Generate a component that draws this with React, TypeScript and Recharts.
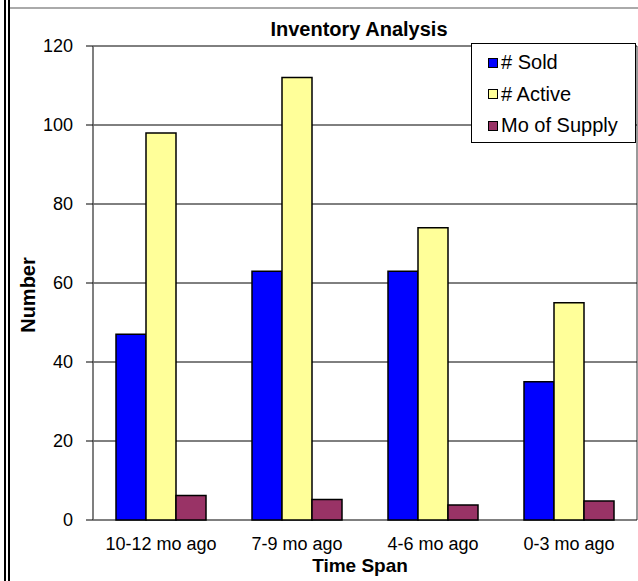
import React from 'react';
import { BarChart, Bar, XAxis, YAxis, CartesianGrid, Legend } from 'recharts';

const categories = ['10-12 mo ago', '7-9 mo ago', '4-6 mo ago', '0-3 mo ago'];
const sold = [47, 63, 63, 35];
const active = [98, 112, 74, 55];
const supply = [6.2, 5.2, 3.8, 4.8];
const yTicks = [0, 20, 40, 60, 80, 100, 120];
const boundaryTicks = [0, 1, 2, 3, 4];
const seriesOrder = ['sold', 'active', 'supply'];

const data = categories.map((name, i) => ({
  name,
  sold: sold[i],
  active: active[i],
  supply: supply[i],
}));

const FONT = '"Liberation Sans", Arial, sans-serif';

const LegendBox = ({ payload }: any) => {
  const items = [...(payload || [])].sort(
    (a: any, b: any) => seriesOrder.indexOf(a.dataKey) - seriesOrder.indexOf(b.dataKey)
  );
  return (
    <div
      style={{
        border: '1px solid #000',
        background: '#fff',
        width: 163,
        height: 95,
        boxSizing: 'content-box',
        paddingTop: 3,
      }}
    >
      {items.map((p: any) => (
        <div
          key={p.value}
          style={{ display: 'flex', alignItems: 'center', height: 31.5, paddingLeft: 16 }}
        >
          <span
            style={{
              display: 'inline-block',
              width: 8,
              height: 8,
              background: p.color,
              border: '1.5px solid #000',
              marginRight: 3,
            }}
          />
          <span style={{ fontSize: 20, color: '#000', fontFamily: FONT }}>{p.value}</span>
        </div>
      ))}
    </div>
  );
};

export default function App() {
  return (
    <div
      style={{
        position: 'absolute',
        left: 0,
        top: 0,
        width: 638,
        height: 581,
        background: '#fff',
        fontFamily: FONT,
        overflow: 'hidden',
      }}
    >
      {/* frame lines */}
      <div style={{ position: 'absolute', left: 4, top: 0, width: 2, height: 581, background: '#000' }} />
      <div style={{ position: 'absolute', left: 8, top: 0, width: 2, height: 581, background: '#000' }} />
      <div style={{ position: 'absolute', left: 10, top: 7, width: 628, height: 2, background: '#aaa' }} />

      <BarChart
        width={638}
        height={581}
        data={data}
        margin={{ top: 46, right: 1, bottom: 0, left: 0 }}
        barCategoryGap={23}
        barGap={0}
        style={{ position: 'absolute', left: 0, top: 0 }}
      >
        <XAxis
          xAxisId="grid"
          type="number"
          domain={[0, 4]}
          ticks={boundaryTicks}
          tick={false}
          tickSize={7}
          height={0}
          axisLine={{ stroke: '#000' }}
          tickLine={{ stroke: '#555' }}
        />
        <XAxis
          dataKey="name"
          height={61}
          tickSize={0}
          tickMargin={17}
          axisLine={false}
          tick={{ fontSize: 18, fill: '#000', fontFamily: FONT }}
        />
        <YAxis
          domain={[0, 120]}
          ticks={yTicks}
          width={93}
          tickSize={7}
          tickMargin={13}
          axisLine={{ stroke: '#777', strokeWidth: 1.5 }}
          tickLine={{ stroke: '#000' }}
          tick={{ fontSize: 18, fill: '#000', fontFamily: FONT }}
        />
        <CartesianGrid xAxisId="grid" horizontal={false} stroke="#777" strokeWidth={1.5} />
        <CartesianGrid xAxisId="grid" vertical={false} stroke="#000" strokeWidth={1} />
        <Legend
          layout="horizontal"
          verticalAlign="middle"
          align="center"
          content={<LegendBox />}
          wrapperStyle={{ position: 'absolute', left: 471, top: 43, width: 165, height: 99 }}
        />
        <Bar dataKey="sold" name="# Sold" fill="#0000FF" stroke="#000" strokeWidth={1.5} isAnimationActive={false} />
        <Bar dataKey="active" name="# Active" fill="#FFFF99" stroke="#000" strokeWidth={1.5} isAnimationActive={false} />
        <Bar dataKey="supply" name="Mo of Supply" fill="#993366" stroke="#000" strokeWidth={1.5} isAnimationActive={false} />
      </BarChart>

      <div
        style={{
          position: 'absolute',
          left: 259,
          width: 200,
          top: 17,
          textAlign: 'center',
          fontSize: 20,
          fontWeight: 'bold',
          lineHeight: '24px',
        }}
      >
        Inventory Analysis
      </div>
      <div
        style={{
          position: 'absolute',
          left: 260,
          width: 200,
          top: 554,
          textAlign: 'center',
          fontSize: 19,
          fontWeight: 'bold',
          lineHeight: '24px',
        }}
      >
        Time Span
      </div>
      <div
        style={{
          position: 'absolute',
          left: 28 - 60,
          top: 295 - 12,
          width: 120,
          lineHeight: '24px',
          textAlign: 'center',
          fontSize: 20,
          fontWeight: 'bold',
          transform: 'rotate(-90deg)',
        }}
      >
        Number
      </div>
    </div>
  );
}
